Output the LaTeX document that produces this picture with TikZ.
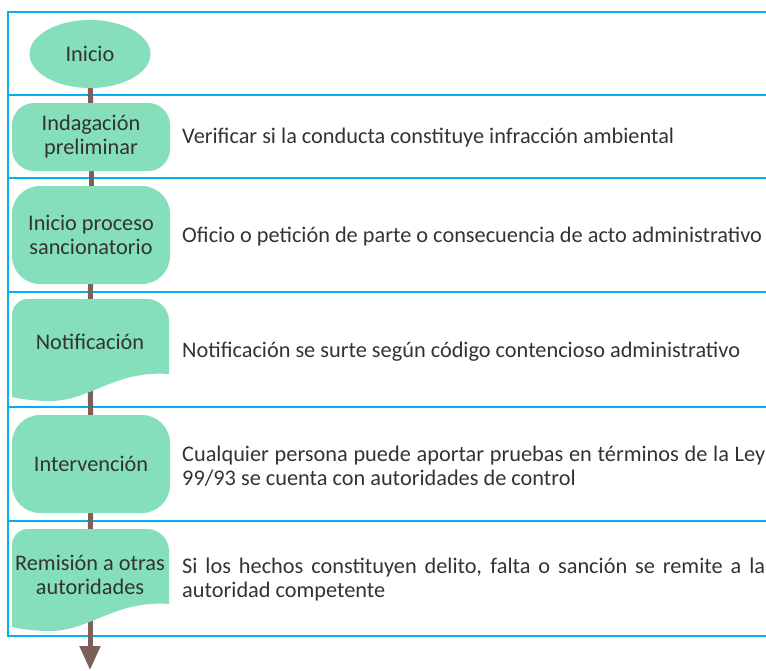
\documentclass[tikz,border=0pt]{standalone}
\usepackage{fontspec}
\setmainfont{Carlito}
\usetikzlibrary{shapes.geometric,arrows.meta,backgrounds}
\definecolor{rowline}{RGB}{0,176,240}
\definecolor{boxgreen}{RGB}{132,223,186}
\definecolor{flowbrown}{RGB}{122,96,88}
\definecolor{txtgray}{RGB}{51,51,51}

\begin{document}
\begin{tikzpicture}[x=1pt,y=-1pt,
	font=\fontsize{22.3}{24}\selectfont,text=txtgray,
	startnode/.style={ellipse,fill=boxgreen,minimum width=121pt,minimum height=68pt,inner sep=0pt},
	stepnode/.style={fill=boxgreen,rounded corners=22pt,minimum width=158pt,align=center,inner sep=0pt},
	docnode/.style={align=center,inner sep=0pt},
	descnode/.style={anchor=west,text width=583pt,align=justify,inner sep=0pt},
	row/.style={rowline,line width=2pt},
	flow/.style={flowbrown,line width=5pt}]
	\useasboundingbox (0,0) rectangle (766,670);
	
	% document shapes
	\fill[boxgreen] (12,397) -- (12,315) .. controls (12,306.2) and (19.2,299) .. (28,299) -- (147,299) .. controls (159.1,299) and (169,308.9) .. (169,321) -- (169,374) .. controls (115,370) and (90,401) .. (50,401) .. controls (35,401) and (20,399) .. cycle;
	\fill[boxgreen,shift={(0,230)}] (12,397) -- (12,315) .. controls (12,306.2) and (19.2,299) .. (28,299) -- (147,299) .. controls (159.1,299) and (169,308.9) .. (169,321) -- (169,374) .. controls (115,370) and (90,401) .. (50,401) .. controls (35,401) and (20,399) .. cycle;
	
	\node[startnode] (inicio) at (90,54) {Inicio};
	\node[stepnode,minimum height=68pt] (indagacion) at (91,137) {Indagación\\preliminar};
	\node[stepnode,minimum height=98pt,rounded corners=28pt] (proceso) at (91,235) {Inicio proceso\\sancionatorio};
	\node[docnode] (notificacion) at (90,342) {Notificación};
	\node[stepnode,minimum height=98pt,rounded corners=28pt] (intervencion) at (91,464) {Intervención};
	\node[docnode] (remision) at (90,575) {Remisión a otras\\autoridades};
	\coordinate (fin) at (90,670);
	
	\node[descnode] (verificar) at (182,138) {Verificar si la conducta constituye infracción ambiental};
	\node[descnode] (oficio) at (182,237) {Oficio o petición de parte o consecuencia de acto administrativo};
	\node[descnode] (surte) at (182,352) {Notificación se surte según código contencioso administrativo};
	\node[descnode] (pruebas) at (182,466) {Cualquier persona puede aportar pruebas en términos de la Ley\linebreak 99/93 se cuenta con autoridades de control};
	\node[descnode] (delito) at (182,580) {Si los hechos constituyen delito, falta o sanción se remite a la\linebreak autoridad competente};
	
	\begin{scope}[on background layer]
		\foreach \y in {12,95,178,292,407,521,636}
			\draw[row] (7,\y) -- (766,\y);
		\draw[row] (7.5,11) -- (7.5,637);
		\draw[flow] (inicio.center) -- (indagacion.center);
		\draw[flow] (indagacion.center) -- (proceso.center);
		\draw[flow] (proceso.center) -- (notificacion.center);
		\draw[flow] (notificacion.center) -- (intervencion.center);
		\draw[flow] (intervencion.center) -- (remision.center);
		\draw[flow,-{Triangle[width=20pt,length=24pt]}] (remision.center) -- (fin);
	\end{scope}
\end{tikzpicture}
\end{document}
